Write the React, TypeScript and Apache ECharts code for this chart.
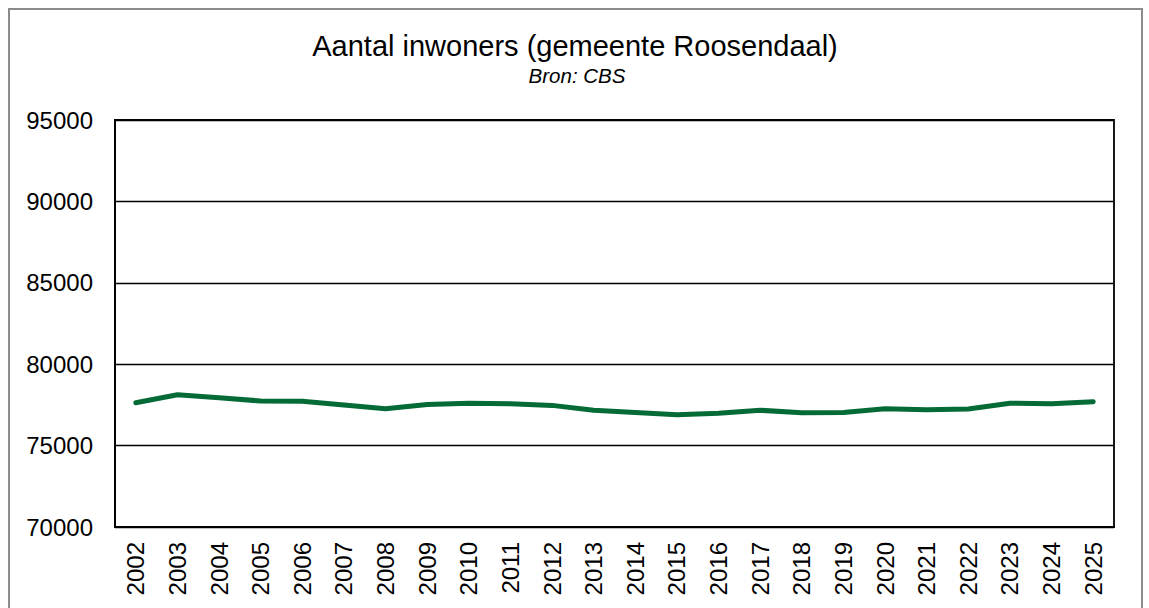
import React, { useEffect, useRef } from "react";
import * as echarts from "echarts";

const years = ["2002","2003","2004","2005","2006","2007","2008","2009","2010","2011","2012","2013","2014","2015","2016","2017","2018","2019","2020","2021","2022","2023","2024","2025"];
const inwoners = [77630,78120,77940,77740,77720,77490,77260,77520,77600,77570,77470,77170,77040,76900,76980,77170,77020,77040,77260,77200,77250,77600,77570,77700];
const yTicks = { min: 70000, max: 95000, interval: 5000 };
const titleText = "Aantal inwoners (gemeente Roosendaal)";
const subText = "Bron: CBS";

export default function App() {
  const ref = useRef<HTMLDivElement>(null);
  useEffect(() => {
    if (!ref.current) return;
    const chart = echarts.init(ref.current, undefined, { renderer: "svg" });
    const font = "'Liberation Sans', Arial, sans-serif";
    chart.setOption({
      animation: false,
      backgroundColor: "#ffffff",
      textStyle: { fontFamily: font },
      grid: { left: 115, right: 35, top: 120, bottom: 81, show: true, borderColor: "#000", borderWidth: 1.8, containLabel: false },
      graphic: [
        { type: "rect", shape: { x: 9, y: 9, width: 1133, height: 640 }, style: { fill: "none", stroke: "#8c8c8c", lineWidth: 2 }, silent: true },
        { type: "text", x: 575, y: 46, style: { text: titleText, font: `29px ${font}`, fill: "#000", align: "center", verticalAlign: "middle" } },
        { type: "text", x: 577, y: 75, style: { text: subText, font: `italic 20.5px ${font}`, fill: "#000", align: "center", verticalAlign: "middle" } },
      ],
      xAxis: {
        type: "category",
        data: years,
        boundaryGap: true,
        axisLine: { lineStyle: { color: "#000", width: 1.8 } },
        axisTick: { show: false },
        axisLabel: { rotate: 90, color: "#000", fontSize: 24, fontFamily: font, margin: 15, interval: 0 },
        splitLine: { show: false },
      },
      yAxis: {
        type: "value",
        min: yTicks.min,
        max: yTicks.max,
        interval: yTicks.interval,
        axisLine: { show: true, lineStyle: { color: "#000", width: 1.8 } },
        axisTick: { show: false },
        axisLabel: { color: "#000", fontSize: 24, fontFamily: font, margin: 22, formatter: (v: number) => String(v) },
        splitLine: { show: true, lineStyle: { color: "#000", width: 1.3 } },
      },
      series: [
        {
          type: "line",
          data: inwoners,
          symbol: "none",
          lineStyle: { color: "#056b36", width: 5, cap: "round", join: "round" },
          itemStyle: { color: "#056b36" },
        },
      ],
    });
    return () => chart.dispose();
  }, []);
  return <div ref={ref} style={{ position: "fixed", left: 0, top: 0, width: 1149, height: 608 }} />;
}
